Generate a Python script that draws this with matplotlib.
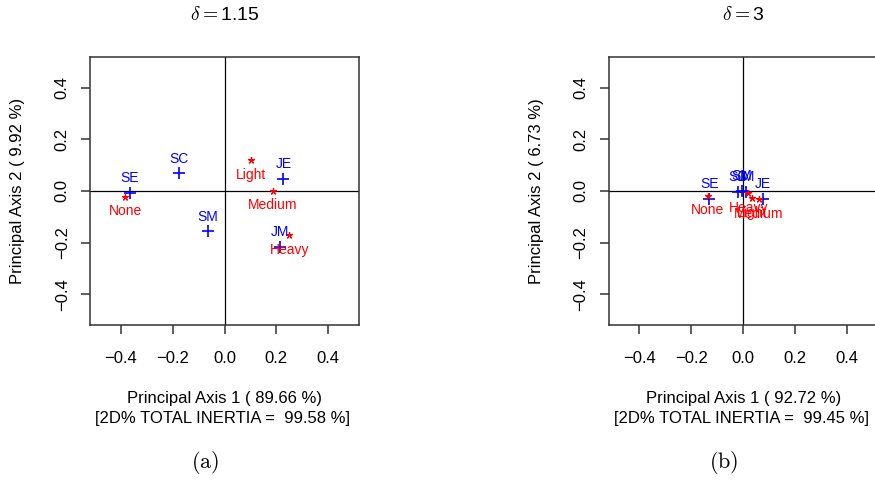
import matplotlib
matplotlib.use("Agg")
import matplotlib.pyplot as plt

plt.rcParams["font.family"] = ["Liberation Sans", "DejaVu Sans"]
plt.rcParams["mathtext.fontset"] = "cm"

# row points (blue +) and column points (red *)
row_labels = ["SE", "SC", "SM", "JE", "JM"]
col_labels = ["None", "Light", "Medium", "Heavy"]

# panel (a): delta = 1.15
row_x_a = [-0.365, -0.176, -0.064, 0.227, 0.215]
row_y_a = [-0.008, 0.068, -0.155, 0.047, -0.216]
col_x_a = [-0.383, 0.103, 0.186, 0.250]
col_y_a = [-0.022, 0.120, 0.001, -0.171]

# panel (b): delta = 3
row_x_b = [-0.131, -0.020, -0.005, 0.075, 0.012]
row_y_b = [-0.031, -0.003, 0.000, -0.030, -0.003]
col_x_b = [-0.137, 0.035, 0.060, 0.020]
col_y_b = [-0.018, -0.028, -0.031, -0.009]

ticks = [-0.4, -0.2, 0.0, 0.2, 0.4]
tick_text = ["\u22120.4", "\u22120.2", "0.0", "0.2", "0.4"]

panels = [
    dict(rx=row_x_a, ry=row_y_a, cx=col_x_a, cy=col_y_a, delta="1.15",
         ax1="89.66", ax2="9.92", tot="99.58", tag="a", left=90),
    dict(rx=row_x_b, ry=row_y_b, cx=col_x_b, cy=col_y_b, delta="3",
         ax1="92.72", ax2="6.73", tot="99.45", tag="b", left=608.7),
]

W, H = 875, 480
fig = plt.figure(figsize=(W / 100, H / 100), dpi=100)

for p in panels:
    ax = fig.add_axes([p["left"] / W, 1 - 325 / H, 269 / W, 268 / H])
    ax.set_xlim(-0.518, 0.518)
    ax.set_ylim(-0.518, 0.518)
    ax.axhline(0, color="black", lw=0.9)
    ax.axvline(0, color="black", lw=0.9)

    ax.plot(p["rx"], p["ry"], ls="none", marker="+", ms=9, mew=1.2, color="blue")
    ax.plot(p["cx"], p["cy"], ls="none", marker=(5, 2, 0), ms=5, mew=0.9, color="red")
    for lbl, x, y in zip(row_labels, p["rx"], p["ry"]):
        ax.annotate(lbl, (x, y), xytext=(0, 10.5), textcoords="offset points",
                    ha="center", va="center", fontsize=10, color="blue")
    for lbl, x, y in zip(col_labels, p["cx"], p["cy"]):
        ax.annotate(lbl, (x, y), xytext=(0, -10.5), textcoords="offset points",
                    ha="center", va="center", fontsize=10, color="red")

    ax.set_xticks(ticks)
    ax.set_yticks(ticks)
    ax.set_xticklabels(tick_text)
    ax.set_yticklabels(tick_text, rotation=90, va="center")
    ax.tick_params(direction="out", length=6.5, width=1.1, labelsize=12,
                   color="#333333")
    ax.tick_params(axis="x", pad=12)
    ax.tick_params(axis="y", pad=8)
    for s in ax.spines.values():
        s.set_linewidth(1.1)
        s.set_color("#333333")

    cx = p["left"] + 134.7
    fig.text(cx / W, 1 - 15 / H, r"$\delta=$" + p["delta"], ha="center",
             va="center", fontsize=14)
    fig.text(cx / W, 1 - 398 / H, f"Principal Axis 1 ( {p['ax1']} %)",
             ha="center", va="center", fontsize=12)
    fig.text((cx - 2) / W, 1 - 419 / H, f"[2D% TOTAL INERTIA =  {p['tot']} %]",
             ha="center", va="center", fontsize=12)
    fig.text((p["left"] - 72) / W, 1 - 191 / H, f"Principal Axis 2 ( {p['ax2']} %)",
             ha="center", va="center", rotation=90, fontsize=12)
    fig.text((cx - 20) / W, 1 - 462 / H, r"$\mathrm{(%s)}$" % p["tag"],
             ha="center", va="center", fontsize=16)

fig.savefig("out.png", dpi=100)
